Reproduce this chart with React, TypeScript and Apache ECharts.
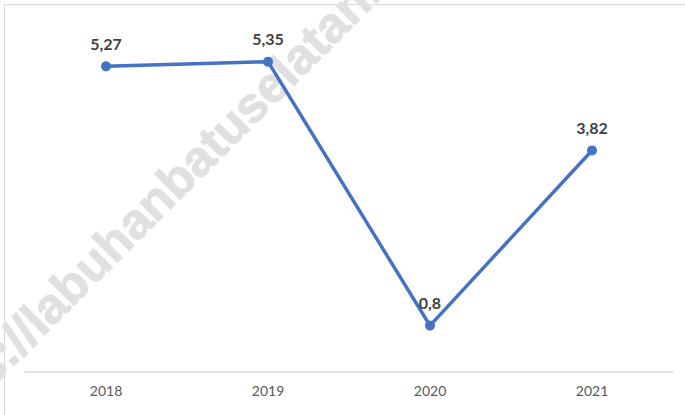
import React, { useEffect, useRef } from "react";
import * as echarts from "echarts";

const categories = ["2018", "2019", "2020", "2021"];
const values = [5.27, 5.35, 0.8, 3.82];
const watermark = "https://labuhanbatuselatankab.go.id";

export default function App() {
  const ref = useRef<HTMLDivElement>(null);
  useEffect(() => {
    if (!ref.current) return;
    const chart = echarts.init(ref.current, null, { renderer: "svg" });
    chart.setOption({
      animation: false,
      backgroundColor: "#ffffff",
      graphic: [
        {
          type: "rect",
          z: 0,
          silent: true,
          shape: { x: 4.5, y: 4.5, width: 720, height: 450 },
          style: { fill: "none", stroke: "#d9d9d9", lineWidth: 1 },
        },
        {
          type: "text",
          z: 0,
          silent: true,
          x: -70,
          y: 461,
          rotation: (45 * Math.PI) / 180,
          style: {
            text: watermark,
            fill: "#e0e0e0",
            stroke: "#e0e0e0",
            lineWidth: 1,
            fontSize: 50,
            fontWeight: "bold",
            fontFamily: "'Liberation Sans', Arial, sans-serif",
            textAlign: "left",
            textVerticalAlign: "bottom",
          },
        },
      ],
      grid: { left: 25, right: 12, top: 24, bottom: 43 },
      xAxis: {
        type: "category",
        data: categories,
        boundaryGap: true,
        axisLine: { show: true, lineStyle: { color: "#d9d9d9", width: 1.5 } },
        axisTick: { show: false },
        axisLabel: {
          color: "#595959",
          fontSize: 14,
          fontFamily: "Lato, 'Open Sans', sans-serif",
          margin: 11,
        },
        splitLine: { show: false },
      },
      yAxis: {
        type: "value",
        min: 0,
        max: 6,
        show: false,
        splitLine: { show: false },
      },
      series: [
        {
          type: "line",
          data: values,
          z: 5,
          symbol: "circle",
          symbolSize: 10,
          lineStyle: { color: "#4472C4", width: 3.5 },
          itemStyle: { color: "#4472C4" },
          label: {
            show: true,
            position: "top",
            distance: 10,
            color: "#404040",
            fontSize: 16,
            fontWeight: "bold",
            fontFamily: "Lato, 'Open Sans', sans-serif",
            formatter: (p: any) => String(p.value).replace(".", ","),
          },
        },
      ],
    });
    return () => chart.dispose();
  }, []);
  return (
    <div
      ref={ref}
      style={{ position: "fixed", left: 0, top: 0, width: 685, height: 415 }}
    />
  );
}
